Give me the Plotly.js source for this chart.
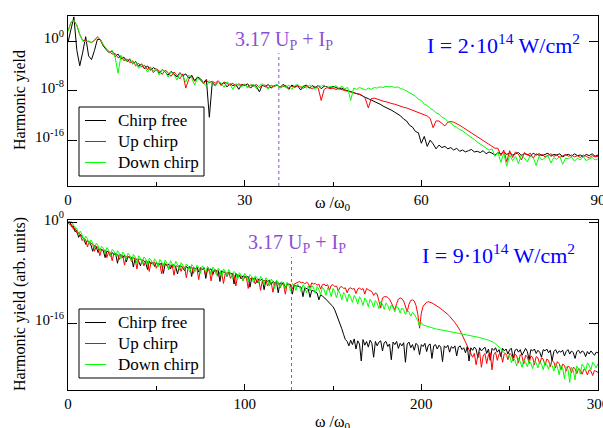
<!DOCTYPE html>
<html><head><meta charset="utf-8">
<script src="https://cdn.plot.ly/plotly-3.0.1.min.js"></script>
<style>html,body{margin:0;padding:0;background:#fff}#chart{width:603px;height:428px}</style>
</head><body><div id="chart"></div>
<script>
// ---- data (log10 of harmonic yield) ----
const seriesNames = ["Chirp free", "Up chirp", "Down chirp"];
const seriesColors = ["#000000", "#ff0000", "#00ff00"];
const stepTop = 0.5;   // harmonic order spacing, top panel
const stepBot = 1;     // harmonic order spacing, bottom panel
const cutoffTop = 35.8;   // 3.17 Up + Ip, I = 2e14
const cutoffBot = 126.5;  // 3.17 Up + Ip, I = 9e14
const topLabel = "I = 2·10<sup>14</sup> W/cm<sup>2</sup>";
const botLabel = "I = 9·10<sup>14</sup> W/cm<sup>2</sup>";
const cutoffLabel = "3.17 U<sub>P</sub> + I<sub>P</sub>";

const logTopFree = [
-0.2,1.8,3.9,-1.5,-4.0,-1.8,0.7,-2.4,-3.0,-1.5,
0.3,0.2,-0.8,-1.4,-1.9,-1.6,-2.5,-2.1,-2.9,-2.6,
-3.3,-3.0,-3.7,-3.3,-4.1,-3.7,-4.5,-4.0,-4.7,-4.3,
-4.6,-5.2,-4.6,-5.0,-5.5,-4.9,-5.3,-5.8,-5.1,-5.6,
-5.3,-6.0,-5.5,-6.4,-5.8,-6.1,-6.7,-6.2,-12.3,-6.7,
-7.2,-6.5,-7.0,-6.7,-7.4,-6.9,-7.2,-7.0,-7.8,-7.0,
-7.2,-6.9,-7.6,-7.1,-7.3,-8.2,-7.1,-7.4,-7.0,-7.6,
-7.2,-7.1,-7.5,-7.0,-7.3,-7.8,-7.1,-7.4,-7.2,-7.9,
-7.3,-7.1,-7.6,-7.2,-7.5,-7.2,-7.7,-7.3,-7.4,-7.6,
-7.3,-7.5,-7.7,-7.6,-7.9,-8.0,-8.2,-8.3,-8.5,-8.6,
-8.9,-9.1,-9.3,-9.5,-9.7,-10.0,-10.2,-10.5,-10.7,-10.9,
-11.2,-11.5,-11.8,-12.1,-12.6,-12.9,-13.6,-13.9,-14.6,-14.8,
-16.5,-15.4,-17.0,-16.0,-16.6,-17.4,-16.8,-17.2,-17.0,-17.4,
-17.2,-17.6,-17.3,-17.8,-17.6,-17.9,-17.7,-17.5,-17.9,-17.8,
-18.0,-17.7,-18.2,-17.9,-18.1,-18.4,-18.0,-18.2,-17.9,-18.3,
-18.1,-18.4,-18.2,-18.0,-18.5,-18.2,-18.3,-18.6,-18.1,-18.4,
-18.2,-18.5,-18.3,-18.1,-18.6,-18.3,-18.4,-18.2,-18.7,-18.4,
-18.3,-18.6,-18.2,-18.5,-18.4,-18.7,-18.3,-18.5,-18.2,-18.6,-18.4];

const logTopUp = [
1.6,3.0,3.3,2.5,1.0,0.1,0.0,-0.1,-0.2,0.1,
0.7,0.2,-0.7,-1.3,-1.7,-2.1,-2.0,-2.7,-2.4,-3.2,
-2.9,-3.5,-3.2,-4.0,-3.6,-4.2,-3.9,-4.6,-4.2,-5.1,
-4.5,-4.8,-5.4,-4.7,-5.1,-5.7,-5.0,-5.5,-6.1,-5.3,
-7.6,-6.2,-5.7,-6.5,-6.0,-6.3,-6.9,-6.4,-6.7,-6.5,
-6.8,-6.4,-7.2,-6.6,-6.9,-7.1,-6.8,-7.3,-6.9,-7.2,
-7.0,-7.4,-7.1,-7.3,-7.0,-7.5,-7.2,-7.1,-7.6,-7.2,
-7.4,-7.1,-7.5,-7.3,-7.2,-7.6,-7.3,-7.5,-7.2,-7.4,
-7.6,-7.3,-7.5,-7.7,-7.4,-7.6,-9.6,-7.8,-7.5,-7.7,
-7.6,-7.8,-7.7,-7.9,-8.0,-8.1,-8.2,-8.3,-8.5,-8.6,
-8.8,-9.3,-10.8,-9.3,-9.2,-9.4,-9.5,-9.7,-9.8,-10.0,
-10.1,-10.2,-10.4,-10.5,-10.7,-10.8,-11.0,-11.1,-11.3,-11.5,
-11.7,-11.9,-12.1,-12.5,-14.0,-12.9,-12.9,-13.3,-13.7,-13.1,
-13.0,-13.1,-13.3,-13.6,-13.9,-14.2,-14.5,-14.8,-15.1,-15.4,
-15.8,-16.1,-16.4,-16.7,-17.0,-17.3,-17.3,-18.5,-17.6,-19.5,
-17.7,-18.8,-17.9,-18.3,-19.2,-18.0,-18.4,-18.1,-18.9,-18.2,
-18.5,-18.3,-18.7,-18.4,-18.2,-18.6,-18.4,-18.8,-18.5,-18.3,
-18.6,-18.4,-18.7,-18.5,-18.8,-18.4,-18.6,-18.9,-18.5,-18.7,-18.6];

const logTopDown = [
1.6,3.0,3.35,2.6,1.1,0.0,-0.1,0.0,-0.3,0.2,
0.7,0.3,-0.6,-1.2,-1.9,-1.5,-2.6,-5.2,-2.3,-3.0,
-3.2,-2.8,-3.7,-3.4,-4.4,-3.8,-4.2,-5.0,-4.3,-4.8,
-4.5,-5.5,-4.6,-4.9,-5.8,-5.0,-5.4,-6.3,-5.2,-5.7,
-6.6,-5.5,-6.0,-7.1,-5.9,-6.4,-6.7,-7.3,-6.4,-6.9,
-7.3,-6.5,-6.8,-7.5,-6.6,-7.0,-7.8,-6.9,-7.1,-7.4,
-6.9,-7.6,-7.1,-7.0,-7.7,-7.2,-6.9,-7.4,-7.8,-7.1,
-7.3,-7.0,-7.6,-7.2,-7.5,-7.1,-7.8,-7.2,-7.0,-7.5,
-7.2,-7.6,-7.1,-7.4,-7.8,-7.2,-7.3,-7.1,-7.6,-7.3,
-7.5,-7.2,-7.6,-7.3,-7.7,-7.5,-9.6,-7.6,-7.8,-7.5,
-7.7,-7.9,-7.6,-7.8,-7.5,-7.6,-7.4,-7.5,-7.3,-7.4,
-7.35,-7.5,-7.4,-7.7,-7.8,-8.1,-8.3,-8.7,-8.9,-9.4,
-9.6,-10.2,-10.4,-10.9,-11.1,-11.6,-11.8,-12.3,-12.5,-13.0,
-13.2,-13.7,-13.9,-14.3,-14.5,-14.9,-15.2,-15.6,-15.9,-16.3,
-16.6,-17.0,-17.2,-17.6,-17.4,-18.6,-17.9,-19.6,-18.1,-20.2,
-18.4,-19.3,-18.6,-19.8,-18.3,-18.9,-19.5,-18.5,-18.8,-20.1,
-18.6,-19.2,-18.9,-18.5,-19.7,-18.8,-19.1,-18.6,-19.9,-18.9,
-19.0,-18.7,-19.4,-18.9,-19.2,-18.6,-19.3,-19.0,-18.8,-19.2,-19.0];

const logBotFree = [
-0.2,0.1,-0.7,-0.6,-1.5,-1.3,-2.4,-1.9,-2.3,-2.6,
-3.5,-2.9,-3.2,-3.6,-4.6,-3.7,-3.9,-4.8,-4.2,-4.3,
-4.5,-5.6,-4.6,-4.7,-5.4,-4.8,-5.1,-5.0,-6.5,-5.1,
-5.2,-5.6,-5.2,-6.3,-5.4,-5.7,-5.6,-7.1,-5.7,-5.9,
-6.2,-6.9,-6.0,-6.1,-6.4,-7.5,-6.2,-6.6,-6.3,-7.0,
-6.4,-6.8,-6.6,-6.5,-8.1,-6.6,-6.9,-6.6,-7.4,-6.7,
-6.8,-7.1,-8.2,-6.9,-7.0,-7.2,-7.7,-7.0,-7.3,-7.0,
-8.6,-7.1,-7.4,-7.1,-7.9,-7.2,-7.5,-7.2,-8.9,-7.3,
-7.5,-7.4,-8.3,-7.5,-7.7,-7.6,-9.4,-7.7,-7.9,-7.9,
-8.6,-7.9,-8.2,-8.1,-9.8,-8.1,-8.4,-8.4,-9.0,-8.5,
-8.6,-8.7,-8.6,-10.3,-8.8,-9.0,-8.8,-9.6,-9.0,-9.2,
-9.0,-10.7,-9.2,-9.4,-9.2,-9.9,-9.4,-9.6,-9.4,-11.2,
-9.6,-9.8,-9.6,-10.4,-9.8,-9.9,-9.9,-11.4,-10.0,-10.1,
-10.1,-10.2,-10.3,-11.8,-10.4,-10.5,-10.6,-11.9,-10.8,-10.9,
-11.0,-11.2,-12.3,-11.5,-11.7,-11.9,-12.2,-12.5,-12.8,-13.1,
-13.4,-13.9,-14.6,-15.3,-16.0,-16.9,-17.8,-18.6,-18.9,-19.6,
-18.7,-19.4,-18.5,-20.1,-18.8,-19.3,-22.0,-18.6,-19.5,-18.9,
-19.8,-18.7,-19.2,-21.4,-18.9,-19.6,-19.0,-18.8,-20.4,-19.1,
-18.9,-19.7,-19.3,-21.8,-19.0,-19.4,-18.9,-20.0,-19.2,-19.6,
-19.1,-22.2,-19.3,-19.0,-19.9,-19.4,-20.3,-19.2,-19.5,-21.0,
-19.4,-19.7,-19.2,-20.5,-19.5,-19.3,-21.6,-19.6,-19.4,-20.1,
-19.5,-19.8,-22.1,-19.6,-19.9,-19.5,-20.6,-19.7,-20.0,-19.6,
-21.2,-19.8,-19.6,-20.2,-19.9,-20.7,-19.7,-22.0,-19.9,-20.3,
-19.8,-20.1,-21.5,-19.9,-20.4,-20.0,-19.8,-20.8,-20.1,-21.9,
-20.0,-20.3,-19.9,-20.6,-20.2,-21.3,-20.0,-20.4,-20.1,-20.9,
-20.2,-20.0,-21.7,-20.3,-20.1,-20.6,-20.2,-21.1,-20.4,-20.0,
-20.5,-21.8,-20.2,-20.4,-20.1,-20.8,-20.3,-20.6,-21.4,-20.2,
-20.4,-20.1,-20.7,-20.3,-22.0,-20.5,-20.2,-20.8,-20.4,-20.6,
-20.3,-21.2,-20.5,-20.2,-20.9,-20.4,-20.7,-21.6,-20.5,-20.3,
-20.8,-20.4,-20.6,-21.3,-20.5,-20.9,-20.4,-20.7,-21.1,-20.6,
-20.7];

const logBotUp = [
0.0,-0.4,-0.3,-1.1,-0.9,-1.7,-1.6,-2.0,-2.9,-2.5,
-2.8,-3.9,-3.1,-3.3,-3.5,-4.6,-3.8,-4.0,-5.3,-4.3,
-4.5,-4.4,-5.6,-4.7,-4.8,-6.1,-4.9,-5.0,-5.1,-5.9,
-5.2,-5.3,-6.8,-5.4,-5.5,-5.4,-6.3,-5.6,-5.8,-7.4,
-5.8,-5.9,-6.0,-6.9,-6.1,-6.2,-7.8,-6.3,-6.4,-6.3,
-7.3,-6.5,-6.6,-8.2,-6.6,-6.6,-6.7,-7.5,-6.8,-6.8,
-8.4,-6.9,-7.0,-6.9,-7.8,-7.0,-7.1,-8.8,-7.2,-7.2,
-7.1,-8.1,-7.3,-7.4,-9.1,-7.4,-7.5,-7.4,-8.3,-7.6,
-7.6,-9.3,-7.7,-7.8,-7.7,-8.6,-7.9,-8.0,-9.7,-8.1,
-8.1,-8.0,-8.9,-8.3,-8.4,-10.1,-8.5,-8.6,-8.5,-9.3,
-8.7,-8.8,-10.5,-8.9,-9.0,-8.9,-9.8,-9.1,-9.2,-10.8,
-9.3,-9.3,-9.2,-10.1,-9.5,-9.5,-11.1,-9.7,-9.7,-9.6,
-10.4,-9.8,-9.8,-11.4,-9.9,-9.8,-9.9,-10.6,-9.8,-9.7,
-9.6,-9.4,-9.6,-9.5,-9.8,-9.5,-9.7,-10.4,-9.6,-9.8,
-9.7,-10.0,-9.8,-10.6,-9.9,-9.8,-10.1,-9.9,-10.8,-10.0,
-9.9,-10.2,-10.1,-10.9,-10.3,-10.2,-10.5,-10.4,-11.2,-10.5,
-10.4,-10.6,-10.5,-11.3,-10.6,-10.4,-10.7,-10.5,-11.4,-10.5,
-10.7,-10.9,-11.0,-11.6,-11.2,-11.4,-12.4,-13.6,-12.0,-11.8,
-11.8,-11.9,-12.2,-12.7,-13.4,-13.9,-12.9,-12.2,-12.0,-12.1,
-12.5,-13.3,-14.2,-13.0,-12.4,-12.3,-12.5,-13.2,-14.6,-16.8,
-14.4,-13.3,-12.9,-12.7,-12.6,-12.65,-12.8,-12.95,-13.1,-13.3,
-13.5,-13.7,-13.9,-14.1,-14.4,-14.6,-14.9,-15.2,-15.5,-15.9,
-16.3,-16.7,-17.2,-17.8,-18.4,-19.0,-19.8,-20.4,-21.0,-21.4,
-20.8,-22.6,-21.1,-20.6,-23.0,-21.2,-20.8,-22.4,-21.0,-20.7,
-23.4,-21.0,-20.6,-21.9,-20.9,-20.7,-22.2,-20.8,-20.9,-21.8,
-20.8,-21.0,-22.0,-20.9,-21.2,-22.3,-21.0,-21.3,-22.5,-21.1,
-21.3,-22.4,-21.2,-21.4,-22.6,-21.3,-21.5,-22.5,-21.5,-21.7,
-22.7,-21.7,-21.9,-22.9,-21.9,-22.2,-23.1,-22.1,-22.4,-23.4,
-22.5,-22.7,-23.6,-22.8,-23.0,-23.9,-23.0,-23.2,-24.0,-23.2,
-23.4,-24.1,-23.3,-23.5,-24.2,-23.4,-23.6,-24.3,-23.5,-23.7,
-23.8];

const logBotDown = [
0.2,-0.1,0.1,-0.5,-0.9,-1.0,-1.9,-1.4,-2.0,-2.9,
-2.2,-2.6,-3.5,-2.8,-3.3,-4.1,-3.3,-3.7,-4.6,-3.8,
-4.1,-4.9,-4.0,-4.4,-5.3,-4.3,-4.6,-5.4,-4.5,-4.9,
-5.8,-4.7,-5.1,-5.9,-4.9,-5.3,-6.2,-5.1,-5.5,-6.5,
-5.3,-5.7,-6.6,-5.5,-5.8,-6.9,-5.7,-6.0,-6.7,-5.8,
-6.2,-7.1,-5.9,-6.3,-7.0,-6.0,-6.5,-7.4,-6.1,-6.6,
-7.2,-6.2,-6.7,-7.6,-6.4,-6.8,-7.5,-6.6,-7.0,-7.9,
-6.7,-7.0,-7.8,-6.8,-7.2,-8.1,-6.9,-7.3,-7.9,-7.0,
-7.4,-8.3,-7.1,-7.5,-8.4,-7.3,-7.6,-8.7,-7.4,-7.8,
-8.5,-7.5,-8.0,-8.9,-7.8,-8.1,-9.1,-8.0,-8.4,-9.3,
-8.1,-8.5,-9.4,-8.3,-8.6,-9.6,-8.5,-8.8,-9.7,-8.6,
-9.0,-9.9,-8.8,-9.2,-10.1,-9.0,-9.4,-10.5,-9.2,-9.5,
-10.3,-9.4,-9.7,-10.6,-9.5,-9.9,-10.9,-9.7,-10.0,-10.8,
-9.8,-10.2,-11.0,-9.9,-10.3,-11.2,-10.1,-10.9,-10.0,-10.4,
-11.3,-10.2,-10.6,-11.5,-10.3,-10.7,-11.6,-10.4,-10.8,-11.8,
-10.5,-11.0,-12.0,-10.8,-11.3,-12.3,-11.1,-11.6,-12.6,-11.4,
-11.9,-12.7,-11.6,-12.1,-13.0,-11.8,-12.3,-13.2,-12.0,-12.5,
-13.4,-12.2,-12.7,-13.5,-12.4,-12.8,-13.7,-12.6,-13.0,-13.8,
-12.8,-13.2,-14.0,-13.1,-13.5,-14.2,-13.3,-13.6,-14.4,-13.6,
-13.9,-14.6,-14.0,-14.2,-14.9,-14.3,-14.6,-15.1,-15.6,-16.4,
-15.9,-16.3,-16.4,-16.5,-16.6,-16.7,-16.8,-16.85,-16.9,-16.95,
-17.0,-17.05,-17.1,-17.15,-17.2,-17.25,-17.3,-17.35,-17.4,-17.45,
-17.5,-17.56,-17.62,-17.68,-17.74,-17.8,-17.86,-17.92,-17.98,-18.04,
-18.1,-18.16,-18.22,-18.28,-18.34,-18.4,-18.5,-18.6,-18.7,-18.8,
-18.9,-19.1,-19.3,-19.5,-19.7,-20.0,-20.4,-20.8,-21.0,-21.4,
-21.2,-22.3,-21.5,-21.9,-22.8,-21.6,-22.1,-23.0,-21.8,-22.2,
-22.9,-21.9,-22.4,-23.2,-22.0,-22.3,-23.1,-22.1,-22.5,-23.4,
-22.2,-22.6,-23.3,-22.3,-22.7,-23.6,-22.4,-22.9,-24.2,-22.7,
-23.1,-24.8,-22.9,-23.3,-25.4,-23.0,-23.5,-25.0,-22.8,-23.2,
-24.1,-22.5,-22.9,-23.6,-22.3,-22.7,-23.4,-22.2,-22.6,-23.1,
-22.4];

// ---- build traces ----
const toYield = a => a.map(v => Math.pow(10, v));
const orders = (a, s) => a.map((_, i) => i * s);
const topSets = [logTopFree, logTopUp, logTopDown];
const botSets = [logBotFree, logBotUp, logBotDown];
const traces = [];
topSets.forEach((s, k) => traces.push({
  x: orders(s, stepTop), y: toYield(s), type: 'scatter', mode: 'lines',
  name: seriesNames[k], line: {color: seriesColors[k], width: 1},
  xaxis: 'x', yaxis: 'y', showlegend: false, hoverinfo: 'skip'
}));
botSets.forEach((s, k) => traces.push({
  x: orders(s, stepBot), y: toYield(s), type: 'scatter', mode: 'lines',
  name: seriesNames[k], line: {color: seriesColors[k], width: 1},
  xaxis: 'x2', yaxis: 'y2', showlegend: false, hoverinfo: 'skip'
}));

// ---- layout ----
const W = 603, H = 428;
const px = x => x / W, py = y => 1 - y / H;
const FONT = "'Liberation Serif', 'Times New Roman', serif";
const purple = '#8a4fd6';
const xBase = {
  ticks: 'inside', ticklen: 6, tickcolor: '#000', tickwidth: 1,
  showline: true, mirror: true, linecolor: '#000', linewidth: 1,
  showgrid: false, zeroline: false, tick0: 0, ticklabeloverflow: 'allow',
  tickfont: {family: FONT, size: 15, color: '#000'}
};
const yBase = {
  type: 'log', ticks: 'inside', ticklen: 9, tickcolor: '#000', tickwidth: 1,
  showline: true, mirror: 'ticks', linecolor: '#000', linewidth: 1,
  showgrid: false, zeroline: false, ticklabelshift: -3,
  tickfont: {family: FONT, size: 15, color: '#000'}
};

// legend drawn as a framed key (box, sample lines, labels) per panel
const shapes = [
  {type: 'line', xref: 'x', yref: 'y domain', x0: cutoffTop, x1: cutoffTop, y0: 0, y1: 0.782,
   line: {color: purple, width: 1, dash: '3px,3px'}},
  {type: 'line', xref: 'x2', yref: 'y2 domain', x0: cutoffBot, x1: cutoffBot, y0: 0, y1: 0.782,
   line: {color: purple, width: 1, dash: '3px,3px'}}
];
const annotations = [];
const keyBoxes = [{top: 107, bottom: 176, rows: [120, 141, 162]},
                  {top: 309, bottom: 378, rows: [322, 343, 364]}];
keyBoxes.forEach(b => {
  shapes.push({type: 'rect', xref: 'paper', yref: 'paper', layer: 'above',
    x0: px(79), x1: px(204), y0: py(b.bottom), y1: py(b.top),
    line: {color: '#000', width: 1}, fillcolor: '#fff'});
  seriesNames.forEach((n, k) => {
    shapes.push({type: 'line', xref: 'paper', yref: 'paper', layer: 'above',
      x0: px(85), x1: px(106), y0: py(b.rows[k] + 0.5), y1: py(b.rows[k] + 0.5),
      line: {color: seriesColors[k], width: 1}});
    annotations.push({text: n, xref: 'paper', yref: 'paper', x: px(116), y: py(b.rows[k]),
      showarrow: false, xanchor: 'left', yanchor: 'middle',
      font: {family: FONT, size: 17, color: '#000'}});
  });
});

annotations.push(
  {text: cutoffLabel, xref: 'paper', yref: 'paper', x: px(284), y: py(40), showarrow: false,
   xanchor: 'center', yanchor: 'middle', font: {family: FONT, size: 20, color: purple}},
  {text: topLabel, xref: 'paper', yref: 'paper', x: px(503), y: py(44), showarrow: false,
   xanchor: 'center', yanchor: 'middle', font: {family: FONT, size: 22, color: '#0000ff'}},
  {text: cutoffLabel, xref: 'paper', yref: 'paper', x: px(297), y: py(244), showarrow: false,
   xanchor: 'center', yanchor: 'middle', font: {family: FONT, size: 20, color: purple}},
  {text: botLabel, xref: 'paper', yref: 'paper', x: px(498), y: py(254), showarrow: false,
   xanchor: 'center', yanchor: 'middle', font: {family: FONT, size: 22, color: '#0000ff'}},
  {text: 'ω /ω<sub>0</sub>', xref: 'paper', yref: 'paper', x: px(333), y: py(203), showarrow: false,
   xanchor: 'center', yanchor: 'middle', font: {family: FONT, size: 16, color: '#000'}},
  {text: 'ω /ω<sub>0</sub>', xref: 'paper', yref: 'paper', x: px(333), y: py(422), showarrow: false,
   xanchor: 'center', yanchor: 'middle', font: {family: FONT, size: 16, color: '#000'}},
  {text: 'Harmonic yield', xref: 'paper', yref: 'paper', x: px(20), y: py(100), showarrow: false,
   textangle: -90, xanchor: 'center', yanchor: 'middle', font: {family: FONT, size: 16, color: '#000'}},
  {text: 'Harmonic yield (arb. units)', xref: 'paper', yref: 'paper', x: px(20), y: py(304), showarrow: false,
   textangle: -90, xanchor: 'center', yanchor: 'middle', font: {family: FONT, size: 16, color: '#000'}}
);

const layout = {
  width: W, height: H, margin: {l: 0, r: 0, t: 0, b: 0},
  paper_bgcolor: '#fff', plot_bgcolor: '#fff', showlegend: false,
  font: {family: FONT, size: 15, color: '#000'},
  xaxis: Object.assign({}, xBase, {domain: [px(68), px(598)], anchor: 'y', range: [0, 90], dtick: 30,
    minor: {dtick: 15, ticks: 'inside', ticklen: 4, tickcolor: '#000', showgrid: false}}),
  yaxis: Object.assign({}, yBase, {domain: [py(186), py(16)], anchor: 'x', range: [-23.4, 4.04],
    tickvals: [1, 1e-8, 1e-16], ticktext: ['10<sup>0</sup>', '10<sup>-8</sup>', '10<sup>-16</sup>']}),
  xaxis2: Object.assign({}, xBase, {domain: [px(68), px(598)], anchor: 'y2', range: [0, 300], dtick: 100,
    minor: {dtick: 50, ticks: 'inside', ticklen: 4, tickcolor: '#000', showgrid: false}}),
  yaxis2: Object.assign({}, yBase, {domain: [py(390), py(220)], anchor: 'x2', range: [-26.6, 0.36],
    tickvals: [1, 1e-16], ticktext: ['10<sup>0</sup>', '10<sup>-16</sup>']}),
  shapes: shapes,
  annotations: annotations
};
Plotly.newPlot('chart', traces, layout, {staticPlot: true, displayModeBar: false});
</script>
</body></html>
